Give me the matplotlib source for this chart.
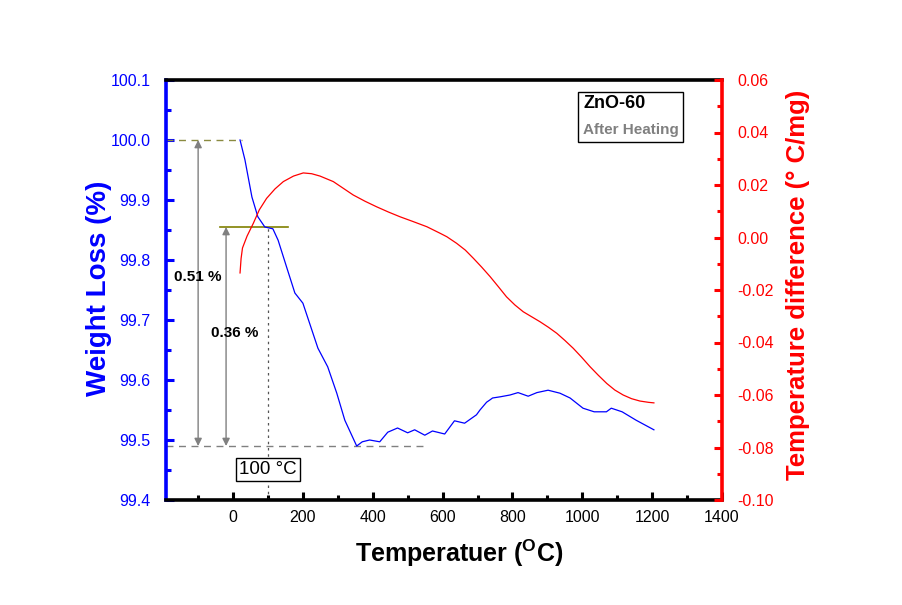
import matplotlib
matplotlib.use("Agg")
import matplotlib.pyplot as plt
from matplotlib.ticker import MultipleLocator, FuncFormatter, FormatStrFormatter
from matplotlib.patches import Rectangle

plt.rcParams['font.family'] = ['Liberation Sans', 'DejaVu Sans']
plt.rcParams['mathtext.fontset'] = 'custom'
plt.rcParams['mathtext.rm'] = 'Liberation Sans'
plt.rcParams['mathtext.bf'] = 'Liberation Sans:bold'

# Weight loss (TGA) curve
temp_w = [20, 34, 54, 71, 91, 114, 129, 154, 177, 200, 243, 271, 297, 320, 354,
          370, 391, 420, 443, 471, 500, 520, 549, 571, 606, 634, 663, 697, 707,
          726, 736, 743, 765, 793, 816, 845, 870, 902, 936, 965, 1002, 1034,
          1069, 1083, 1114, 1154, 1205]
weight = [100.0, 99.967, 99.905, 99.872, 99.855, 99.852, 99.833, 99.787, 99.745,
          99.728, 99.653, 99.622, 99.578, 99.533, 99.49, 99.497, 99.50, 99.497,
          99.513, 99.52, 99.512, 99.517, 99.508, 99.515, 99.51, 99.532, 99.528,
          99.542, 99.55, 99.563, 99.567, 99.57, 99.572, 99.575, 99.579, 99.573,
          99.579, 99.583, 99.578, 99.57, 99.553, 99.547, 99.547, 99.553, 99.547,
          99.533, 99.517]

# Temperature difference (DTA) curve
temp_d = [20, 23, 27, 40, 58, 75, 96, 120, 144, 173, 201, 225, 249, 287, 315,
          344, 378, 411, 445, 478, 515, 555, 593, 612, 640, 665, 688, 712, 736,
          760, 783, 807, 831, 855, 879, 903, 927, 950, 974, 998, 1022, 1046,
          1070, 1093, 1117, 1141, 1165, 1190, 1205]
tdiff = [-0.0135, -0.008, -0.004, 0.0005, 0.0054, 0.0105, 0.0149, 0.0185,
         0.0213, 0.0234, 0.0246, 0.0243, 0.0234, 0.0213, 0.0188, 0.0162, 0.0138,
         0.0117, 0.0097, 0.0079, 0.0061, 0.0041, 0.0016, 0.0003, -0.0022,
         -0.0048, -0.0079, -0.0113, -0.0149, -0.0188, -0.0226, -0.0257, -0.0283,
         -0.0302, -0.0321, -0.0342, -0.0365, -0.0392, -0.0422, -0.0456, -0.0492,
         -0.0525, -0.0556, -0.0581, -0.06, -0.0614, -0.0623, -0.0628, -0.063]

x_ticks = [0, 200, 400, 600, 800, 1000, 1200, 1400]
w_start, w_100, w_end = 100.0, 99.855, 99.49

fig = plt.figure(figsize=(9.02, 6.05), dpi=100)
ax = fig.add_axes([166/902, 1-500/605, 556/902, 420/605])
ax2 = ax.twinx()

ax.plot(temp_w, weight, color='blue', lw=0.9, zorder=3)
ax2.plot(temp_d, tdiff, color='red', lw=0.9)

ax.set_xlim(-192, 1400)
ax.set_ylim(99.4, 100.1)
ax2.set_ylim(-0.10, 0.06)

ax.set_xticks(x_ticks)
ax.xaxis.set_minor_locator(MultipleLocator(100))
ax.yaxis.set_major_locator(MultipleLocator(0.1))
ax.yaxis.set_minor_locator(MultipleLocator(0.05))
ax.yaxis.set_major_formatter(FormatStrFormatter('%.1f'))
ax2.yaxis.set_major_locator(MultipleLocator(0.02))
ax2.yaxis.set_minor_locator(MultipleLocator(0.01))


def fmt2(v, pos):
    s = '%.2f' % v
    return '0.00' if s == '-0.00' else s


ax2.yaxis.set_major_formatter(FuncFormatter(fmt2))

lw_sp = 2.6
for a in (ax, ax2):
    for s in a.spines.values():
        s.set_linewidth(lw_sp)
ax.spines['left'].set_color('blue')
ax.spines['right'].set_visible(False)
ax.spines['top'].set_color('black')
ax.spines['bottom'].set_color('black')
ax2.spines['right'].set_color('red')
ax2.spines['left'].set_visible(False)
ax2.spines['top'].set_visible(False)
ax2.spines['bottom'].set_visible(False)

ax.tick_params(axis='x', which='both', direction='in', colors='black', width=2.2,
               labelsize=11.5, pad=7, top=False)
ax.tick_params(axis='x', which='major', length=6)
ax.tick_params(axis='x', which='minor', length=3.5)
ax.tick_params(axis='y', which='both', direction='in', colors='blue', width=2.2,
               labelsize=11.5, pad=11, labelcolor='blue')
ax.tick_params(axis='y', which='major', length=6)
ax.tick_params(axis='y', which='minor', length=3.5)
ax2.tick_params(axis='y', which='both', direction='in', colors='red', width=2.2,
                labelsize=11.5, pad=11, labelcolor='red')
ax2.tick_params(axis='y', which='major', length=6)
ax2.tick_params(axis='y', which='minor', length=3.5)

# annotation lines
ax.plot([-192, 25], [w_start, w_start], ls=(0, (5, 4)), color='#8a8a40', lw=1)
ax.plot([-37, 157], [w_100, w_100], color='#808000', lw=1.2)
ax.plot([-192, 558], [w_end, w_end], ls=(0, (5, 4)), color='gray', lw=1)
ax.plot([100, 100], [99.4, w_100], ls=(0, (2, 3)), color='#555555', lw=0.9)

arr = dict(arrowstyle='<|-|>', color='gray', lw=1, mutation_scale=11,
           shrinkA=0, shrinkB=0)
ax.annotate('', xy=(-100, w_start), xytext=(-100, w_end), arrowprops=arr)
ax.annotate('', xy=(-20, w_100), xytext=(-20, w_end), arrowprops=arr)

ax.text(-100, 99.772, '0.51 %', fontsize=11, fontweight='bold', ha='center',
        va='center', zorder=5)
ax.text(6, 99.678, '0.36 %', fontsize=11, fontweight='bold', ha='center',
        va='center', zorder=5)
ax.text(100, 99.451, '100 \u00b0C', fontsize=13.5, ha='center', va='center',
        bbox=dict(boxstyle='square,pad=0.15', fc='white', ec='black', lw=1))

# legend-like box
ax.add_patch(Rectangle(((578-166)/556, (500-142)/420), (683-578)/556, 50/420,
                       transform=ax.transAxes, fill=False, ec='black', lw=1,
                       zorder=6))
ax.text((583-166)/556, (500-103)/420, 'ZnO-60', transform=ax.transAxes,
        fontsize=13, fontweight='bold', ha='left', va='center')
ax.text((583-166)/556, (500-130)/420, 'After Heating', transform=ax.transAxes,
        fontsize=11, fontweight='bold', color='gray', ha='left', va='center')

fig.text(99/902, 1-288/605, 'Weight Loss (%)', rotation=90, color='blue',
         fontsize=20, fontweight='bold', ha='center', va='center')
fig.text(798/902, 1-285/605, 'Temperature difference (\u00b0 C/mg)', rotation=90,
         color='red', fontsize=18.5, fontweight='bold', ha='center', va='center')
fig.text(459/902, 1-553/605, r'Temperatuer ($^{\mathbf{O}}$C)', color='black',
         fontsize=18, fontweight='bold', ha='center', va='center')

fig.savefig('out.png', dpi=100)
